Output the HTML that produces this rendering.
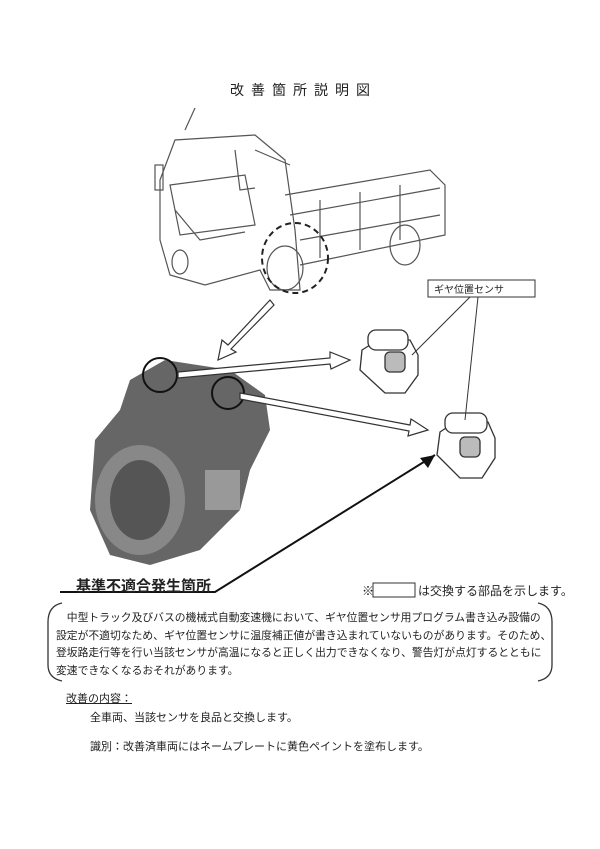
<!DOCTYPE html>
<html><head><meta charset="utf-8"><style>
body{margin:0;background:#fff;width:600px;height:849px;position:relative;overflow:hidden;font-family:"Liberation Sans","Noto Sans CJK JP",sans-serif;color:#222}
.t{position:absolute;white-space:nowrap}
</style></head><body>
<div class="t" style="left:230px;top:80px;font-size:14px;letter-spacing:7px">改善箇所説明図</div>
<svg width="600" height="849" style="position:absolute;left:0;top:0">
<g fill="none" stroke="#555" stroke-width="1.2">
<path d="M160 180 L175 140 L255 135 L285 160 L295 230 L300 290 L270 290 L260 270 L205 285 L170 275 L160 240 Z"/>
<path d="M170 185 L245 175 L255 225 L180 235 Z"/>
<path d="M255 150 L290 165"/><path d="M235 150 L240 190 L255 188"/>
<rect x="155" y="165" width="8" height="25"/>
<path d="M285 195 L430 170 L445 185 L445 235 L300 265"/>
<path d="M290 215 L440 188"/><path d="M300 240 L440 215"/>
<path d="M320 200 L320 258"/><path d="M360 192 L360 250"/><path d="M400 185 L400 240"/>
<ellipse cx="285" cy="268" rx="18" ry="22"/><ellipse cx="405" cy="245" rx="15" ry="20"/>
<ellipse cx="180" cy="262" rx="8" ry="12"/>
<path d="M175 210 L200 240 L245 232"/>
<path d="M185 130 L195 108"/>
</g>
<ellipse cx="295" cy="258" rx="33" ry="35" fill="none" stroke="#222" stroke-width="2" stroke-dasharray="6,4"/>
<path d="M130 380 L165 360 L230 370 L265 395 L270 430 L250 470 L240 510 L200 550 L150 565 L110 555 L90 510 L95 440 L120 410 Z" fill="#666"/>
<ellipse cx="140" cy="500" rx="45" ry="55" fill="#888"/>
<ellipse cx="140" cy="500" rx="30" ry="40" fill="#555"/>
<rect x="205" y="470" width="35" height="40" fill="#999"/>
<circle cx="160" cy="375" r="17" fill="none" stroke="#111" stroke-width="2"/>
<circle cx="228" cy="393" r="16" fill="none" stroke="#111" stroke-width="2"/>
<g fill="#fff" stroke="#333" stroke-width="1.2">
<path d="M270 300 L228 345 L222 340 L218 360 L236 352 L231 349 L274 305 Z"/>
<path d="M178 372 L330 358 L330 352 L350 360 L331 369 L330 364 L178 378 Z"/>
<path d="M240 393 L410 425 L411 419 L428 430 L408 436 L409 431 L240 399 Z"/>
</g>
<path d="M60 592 L215 592 L435 455" fill="none" stroke="#111" stroke-width="2"/>
<path d="M435 455 L420 458 L428 468 Z" fill="#111"/>
<g fill="#fff" stroke="#333" stroke-width="1.3">
<path d="M362 350 L378 340 L410 340 L418 355 L418 375 L405 393 L385 393 L360 370 Z"/>
<rect x="368" y="330" width="40" height="20" rx="8"/>
<rect x="385" y="352" width="20" height="20" rx="5" fill="#bbb"/>
<path d="M440 432 L455 422 L488 422 L495 438 L495 458 L482 478 L460 478 L437 455 Z"/>
<rect x="445" y="413" width="42" height="20" rx="8"/>
<rect x="460" y="437" width="20" height="20" rx="5" fill="#bbb"/>
</g>
<rect x="428" y="280" width="107" height="17" fill="#fff" stroke="#333"/>
<path d="M470 297 L412 355 M478 297 L465 420" stroke="#333" fill="none"/>
<path d="M62 603 Q48 606 48 622 L48 665 Q48 678 62 681" fill="none" stroke="#333" stroke-width="1.3"/>
<path d="M538 603 Q552 606 552 622 L552 665 Q552 678 538 681" fill="none" stroke="#333" stroke-width="1.3"/>
<rect x="373" y="583" width="42" height="14" fill="#fff" stroke="#333"/>
</svg>
<div class="t" style="left:434px;top:281px;font-size:10px">ギヤ位置センサ</div>
<div class="t" style="left:76px;top:575px;font-size:15px;font-weight:bold">基準不適合発生箇所</div>
<div class="t" style="left:362px;top:582px;font-size:12px">※<span style="display:inline-block;width:44px"></span>は交換する部品を示します。</div>
<div class="t" style="left:56px;top:610px;font-size:10.8px;line-height:17.5px">　中型トラック及びバスの機械式自動変速機において、ギヤ位置センサ用プログラム書き込み設備の<br>設定が不適切なため、ギヤ位置センサに温度補正値が書き込まれていないものがあります。そのため、<br>登坂路走行等を行い当該センサが高温になると正しく出力できなくなり、警告灯が点灯するとともに<br>変速できなくなるおそれがあります。</div>
<div class="t" style="left:66px;top:690px;font-size:11px;text-decoration:underline">改善の内容：</div>
<div class="t" style="left:90px;top:709px;font-size:11px">全車両、当該センサを良品と交換します。</div>
<div class="t" style="left:90px;top:738px;font-size:11px">識別：改善済車両にはネームプレートに黄色ペイントを塗布します。</div>
</body></html>
